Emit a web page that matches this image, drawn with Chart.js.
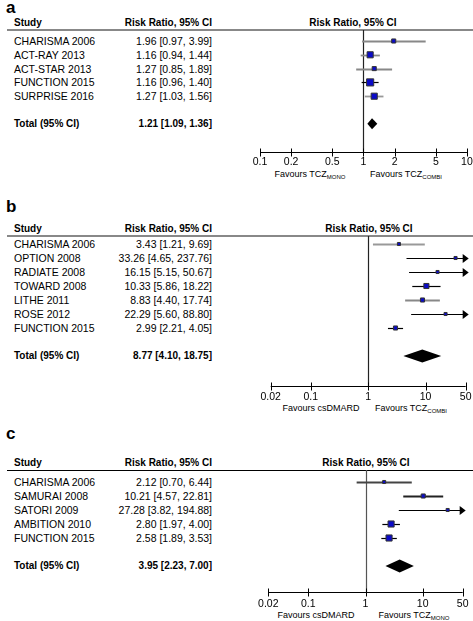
<!DOCTYPE html>
<html>
<head>
<meta charset="utf-8">
<script src="https://cdn.jsdelivr.net/npm/chart.js@4.4.1/dist/chart.umd.min.js"></script>
<style>
  body { margin: 0; width: 473px; height: 621px; position: relative; overflow: hidden; background: #fff;
         font-family: "Liberation Sans", Arial, sans-serif; color: #000; }
  .t { position: absolute; font-size: 10.5px; line-height: 12px; white-space: nowrap; }
  .b { font-weight: bold; font-size: 10px; }
  .r { text-align: right; }
  .c { transform: translateX(-50%); }
  .letter { position: absolute; font-weight: bold; font-size: 17px; line-height: 18px; }
  .fav { font-size: 9px; }
  .fav sub { font-size: 6px; vertical-align: -2px; }
  canvas { position: absolute; left: 0; }
</style>
</head>
<body>
<script>
// panel a: TCZ mono vs TCZ combi
const studiesA = ["CHARISMA 2006", "ACT-RAY 2013", "ACT-STAR 2013", "FUNCTION 2015", "SURPRISE 2016"];
const rrA = [1.96, 1.16, 1.27, 1.16, 1.27];
const loA = [0.97, 0.94, 0.85, 0.96, 1.03];
const hiA = [3.99, 1.44, 1.89, 1.40, 1.56];
const totalA = [1.21, 1.09, 1.36];
const ticksA = [0.1, 0.2, 0.5, 1, 2, 5, 10];

// panel b: csDMARD vs TCZ combi
const studiesB = ["CHARISMA 2006", "OPTION 2008", "RADIATE 2008", "TOWARD 2008", "LITHE 2011", "ROSE 2012", "FUNCTION 2015"];
const rrB = [3.43, 33.26, 16.15, 10.33, 8.83, 22.29, 2.99];
const loB = [1.21, 4.65, 5.15, 5.86, 4.40, 5.60, 2.21];
const hiB = [9.69, 237.76, 50.67, 18.22, 17.74, 88.80, 4.05];
const totalB = [8.77, 4.10, 18.75];
const ticksB = [0.02, 0.1, 1, 10, 50];

// panel c: csDMARD vs TCZ mono
const studiesC = ["CHARISMA 2006", "SAMURAI 2008", "SATORI 2009", "AMBITION 2010", "FUNCTION 2015"];
const rrC = [2.12, 10.21, 27.28, 2.80, 2.58];
const loC = [0.70, 4.57, 3.82, 1.97, 1.89];
const hiC = [6.44, 22.81, 194.88, 4.00, 3.53];
const totalC = [3.95, 2.23, 7.00];
const ticksC = [0.02, 0.1, 1, 10, 50];

const W = 473;

// layout of each panel (page pixels)
const panels = [
  { key: 'a', studies: studiesA, rr: rrA, lo: loA, hi: hiA, total: totalA, ticks: ticksA,
    top: 0, h: 182, headY: 23, lineY: 30, row0: 41, step: 13.8, axisY: 152, left: 260, right: 467.7,
    tickY: 162, favY: 174, headX: 353, favL: ['Favours TCZ', 'MONO', 310], favR: ['Favours TCZ', 'COMBI', 406],
    hdrColor: '#888', hdrW: 2, nullColor: '#222', diaH: 11,
    sizes: [4, 6, 4, 7, 6], ciColors: ['#888', '#888', '#888', '#000', '#999'] },
  { key: 'b', studies: studiesB, rr: rrB, lo: loB, hi: hiB, total: totalB, ticks: ticksB,
    top: 190, h: 225, headY: 229, lineY: 236, row0: 244, step: 14, axisY: 386, left: 270.7, right: 465.7,
    tickY: 397, favY: 408, headX: 369, favL: ['Favours csDMARD', '', 321], favR: ['Favours TCZ', 'COMBI', 411],
    hdrColor: '#888', hdrW: 2, nullColor: '#222', diaH: 13,
    sizes: [3, 3, 3, 5, 4, 3, 4], ciColors: ['#999', '#000', '#000', '#000', '#888', '#000', '#000'] },
  { key: 'c', studies: studiesC, rr: rrC, lo: loC, hi: hiC, total: totalC, ticks: ticksC,
    top: 420, h: 201, headY: 463, lineY: 470, row0: 482, step: 14, axisY: 592, left: 268.3, right: 462.7,
    tickY: 604, favY: 615, headX: 366, favL: ['Favours csDMARD', '', 316], favR: ['Favours TCZ', 'MONO', 414],
    hdrColor: '#000', hdrW: 1, nullColor: '#555', diaH: 13,
    sizes: [3, 4, 3, 6, 6], ciColors: ['#444', '#222', '#000', '#000', '#000'] }
];

function addText(html, cls, style) {
  const el = document.createElement('div');
  el.className = cls;
  el.innerHTML = html;
  el.style.cssText = style;
  document.body.appendChild(el);
  return el;
}

function ciText(v, l, h) {
  return v.toFixed(2) + ' [' + l.toFixed(2) + ', ' + h.toFixed(2) + ']';
}

function forestPlugin(p) {
  return {
    id: 'forest_' + p.key,
    beforeDatasetsDraw(chart) {
      const { ctx, chartArea: a, scales: { x, y } } = chart;
      const xmin = p.ticks[0], xmax = p.ticks[p.ticks.length - 1];
      const n = p.rr.length;
      ctx.save();

      // line of no effect
      const x1 = Math.round(x.getPixelForValue(1)) + 0.5;
      ctx.strokeStyle = p.nullColor;
      ctx.lineWidth = 1.2;
      ctx.beginPath(); ctx.moveTo(x1, a.top); ctx.lineTo(x1, a.bottom); ctx.stroke();

      // confidence intervals
      for (let i = 0; i < n; i++) {
        const yy = Math.round(y.getPixelForValue(i)) + 0.5;
        const xl = x.getPixelForValue(Math.max(p.lo[i], xmin));
        const over = p.hi[i] > xmax;
        const xr = x.getPixelForValue(Math.min(p.hi[i], xmax));
        ctx.strokeStyle = p.ciColors[i];
        ctx.lineWidth = p.ciColors[i] === '#000' ? 1.2 : 1.8;
        ctx.beginPath(); ctx.moveTo(xl, yy); ctx.lineTo(over ? xr - 2 : xr, yy); ctx.stroke();
        if (over) {
          ctx.fillStyle = '#000';
          ctx.beginPath();
          ctx.moveTo(xr + 3, yy);
          ctx.lineTo(xr - 3, yy - 4.5);
          ctx.lineTo(xr - 3, yy + 4.5);
          ctx.closePath(); ctx.fill();
        }
      }

      // pooled estimate diamond
      const yt = y.getPixelForValue(n + 1);
      ctx.fillStyle = '#000';
      ctx.beginPath();
      ctx.moveTo(x.getPixelForValue(p.total[1]), yt);
      ctx.lineTo(x.getPixelForValue(p.total[0]), yt - p.diaH / 2);
      ctx.lineTo(x.getPixelForValue(p.total[2]), yt);
      ctx.lineTo(x.getPixelForValue(p.total[0]), yt + p.diaH / 2);
      ctx.closePath(); ctx.fill();

      // x axis
      const ya = Math.round(a.bottom) + 0.5;
      ctx.strokeStyle = '#000';
      ctx.lineWidth = 1;
      ctx.beginPath();
      ctx.moveTo(x.getPixelForValue(xmin), ya); ctx.lineTo(x.getPixelForValue(xmax), ya);
      p.ticks.forEach(t => {
        const tx = Math.round(x.getPixelForValue(t)) + 0.5;
        ctx.moveTo(tx, ya - 4); ctx.lineTo(tx, ya + 4);
      });
      ctx.stroke();
      ctx.fillStyle = '#000';
      ctx.font = '10.5px "Liberation Sans", Arial, sans-serif';
      ctx.textAlign = 'center';
      ctx.textBaseline = 'middle';
      p.ticks.forEach(t => {
        ctx.fillText(String(t), x.getPixelForValue(t), p.tickY - p.top);
      });
      ctx.restore();
    }
  };
}

panels.forEach(p => {
  const n = p.studies.length;
  // panel letter and table
  addText(p.key, 'letter', `left:6px;top:${p.headY - (p.key === 'c' ? 38 : p.key === 'b' ? 31 : 24)}px`);
  addText('Study', 't b', `left:14px;top:${p.headY - 6}px`);
  addText('Risk Ratio, 95% CI', 't b r', `right:${W - 212}px;top:${p.headY - 6}px`);
  addText('Risk Ratio, 95% CI', 't b c', `left:${p.headX}px;top:${p.headY - 6}px`);
  const hr = document.createElement('div');
  hr.style.cssText = `position:absolute;left:7px;width:${W - 7}px;top:${p.lineY - Math.floor(p.hdrW / 2)}px;height:${p.hdrW}px;background:${p.hdrColor}`;
  document.body.appendChild(hr);
  p.studies.forEach((s, i) => {
    const yy = p.row0 + i * p.step;
    addText(s, 't', `left:14px;top:${yy - 6}px`);
    addText(ciText(p.rr[i], p.lo[i], p.hi[i]), 't r', `right:${W - 212}px;top:${yy - 6}px`);
  });
  const yt = p.row0 + (n + 1) * p.step;
  addText('Total (95% CI)', 't b', `left:14px;top:${yt - 6}px`);
  addText(ciText(p.total[0], p.total[1], p.total[2]), 't b r', `right:${W - 212}px;top:${yt - 6}px`);
  // favours labels
  [p.favL, p.favR].forEach(f => {
    addText(f[0] + (f[1] ? '<sub>' + f[1] + '</sub>' : ''), 't fav c', `left:${f[2]}px;top:${p.favY - 6}px`);
  });

  const cv = document.createElement('canvas');
  cv.width = W; cv.height = p.h;
  cv.style.top = p.top + 'px';
  document.body.appendChild(cv);

  new Chart(cv, {
    type: 'scatter',
    data: {
      datasets: [{
        data: p.rr.map((v, i) => ({ x: v, y: i })),
        pointStyle: 'rect',
        pointRadius: p.sizes.map(s => s * 0.72),
        backgroundColor: '#0b0bc8',
        borderColor: '#333',
        borderWidth: 1,
        clip: false
      }]
    },
    options: {
      responsive: false,
      animation: false,
      events: [],
      layout: { padding: { left: p.left, right: W - p.right, top: p.lineY - p.top, bottom: p.top + p.h - p.axisY } },
      scales: {
        x: { type: 'logarithmic', min: p.ticks[0], max: p.ticks[p.ticks.length - 1], display: false },
        y: { type: 'linear', min: (p.lineY - p.row0) / p.step, max: (p.axisY - p.row0) / p.step, reverse: true, display: false }
      },
      plugins: { legend: { display: false }, tooltip: { enabled: false } }
    },
    plugins: [forestPlugin(p)]
  });
});
</script>
</body>
</html>
